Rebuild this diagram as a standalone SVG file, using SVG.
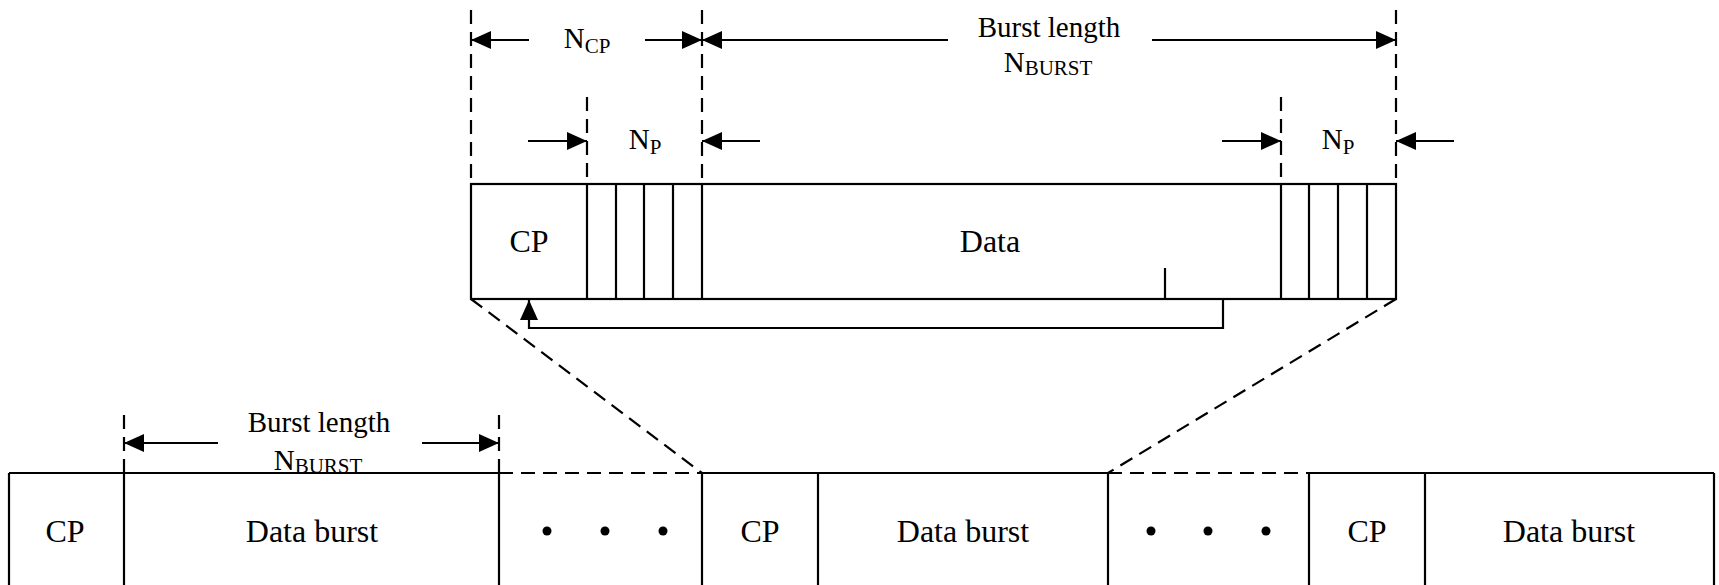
<svg xmlns="http://www.w3.org/2000/svg" width="1719" height="585" viewBox="0 0 1719 585">
<style>
.s{stroke:#000;stroke-width:2.2;fill:none}
.d{stroke:#000;stroke-width:2.2;fill:none;stroke-dasharray:14 8}
.t{font-family:"Liberation Serif","Times New Roman",serif;fill:#000;text-anchor:middle}
.big{font-size:32px}
.lab{font-size:29px}
.sub{font-size:21px}
.dot{fill:#000}
</style>
<defs>
<marker id="ah" markerUnits="userSpaceOnUse" markerWidth="20" markerHeight="18" refX="20" refY="9" orient="auto">
<path d="M0,0 L20,9 L0,18 z" fill="#000"/>
</marker>
</defs>
<rect width="1719" height="585" fill="#fff"/>

<g id="burst-zoom">
<rect class="s" x="471" y="184" width="925" height="115"/>
<line class="s" x1="587" y1="184" x2="587" y2="299"/>
<line class="s" x1="616" y1="184" x2="616" y2="299"/>
<line class="s" x1="644" y1="184" x2="644" y2="299"/>
<line class="s" x1="673" y1="184" x2="673" y2="299"/>
<line class="s" x1="702" y1="184" x2="702" y2="299"/>
<line class="s" x1="1281" y1="184" x2="1281" y2="299"/>
<line class="s" x1="1309" y1="184" x2="1309" y2="299"/>
<line class="s" x1="1338" y1="184" x2="1338" y2="299"/>
<line class="s" x1="1367" y1="184" x2="1367" y2="299"/>
<line class="s" x1="1165" y1="268" x2="1165" y2="299"/>
<text class="t big" x="529" y="252">CP</text>
<text class="t big" x="990" y="252">Data</text>
</g>

<g id="row-bottom">
<line class="s" x1="9" y1="473" x2="499" y2="473"/>
<line class="d" x1="499" y1="473" x2="702" y2="473"/>
<line class="s" x1="702" y1="473" x2="1108" y2="473"/>
<line class="d" x1="1108" y1="473" x2="1309" y2="473"/>
<line class="s" x1="1309" y1="473" x2="1714" y2="473"/>
<line class="s" x1="9" y1="473" x2="9" y2="590"/>
<line class="s" x1="124" y1="473" x2="124" y2="590"/>
<line class="s" x1="499" y1="473" x2="499" y2="590"/>
<line class="s" x1="702" y1="473" x2="702" y2="590"/>
<line class="s" x1="818" y1="473" x2="818" y2="590"/>
<line class="s" x1="1108" y1="473" x2="1108" y2="590"/>
<line class="s" x1="1309" y1="473" x2="1309" y2="590"/>
<line class="s" x1="1425" y1="473" x2="1425" y2="590"/>
<line class="s" x1="1714" y1="473" x2="1714" y2="590"/>
</g>
<g id="cp1"><text class="t big" x="65" y="542">CP</text></g>
<g id="data1"><text class="t big" x="312" y="542">Data burst</text></g>
<g id="dots1"><circle class="dot" cx="547" cy="531" r="4.5"/><circle class="dot" cx="605" cy="531" r="4.5"/><circle class="dot" cx="663" cy="531" r="4.5"/></g>
<g id="cp2"><text class="t big" x="760" y="542">CP</text></g>
<g id="data2"><text class="t big" x="963" y="542">Data burst</text></g>
<g id="dots2"><circle class="dot" cx="1151" cy="531" r="4.5"/><circle class="dot" cx="1208" cy="531" r="4.5"/><circle class="dot" cx="1266" cy="531" r="4.5"/></g>
<g id="cp3"><text class="t big" x="1367" y="542">CP</text></g>
<g id="data3"><text class="t big" x="1569" y="542">Data burst</text></g>

<g id="labels">
<text class="t lab" x="587" y="48">N<tspan class="sub" dy="5">CP</tspan></text>
<text class="t lab" x="1049" y="37">Burst length</text>
<text class="t lab" x="1048" y="72">N<tspan class="sub" dy="3">BURST</tspan></text>
<text class="t lab" x="645" y="149">N<tspan class="sub" dy="5">P</tspan></text>
<text class="t lab" x="1338" y="149">N<tspan class="sub" dy="5">P</tspan></text>
<text class="t lab" x="319" y="432">Burst length</text>
<text class="t lab" x="318" y="470">N<tspan class="sub" dy="3">BURST</tspan></text>
</g>

<g id="connectors">
<line class="d" x1="471" y1="10" x2="471" y2="184"/>
<line class="d" x1="702" y1="10" x2="702" y2="184"/>
<line class="d" x1="1396" y1="10" x2="1396" y2="184"/>
<line class="d" x1="587" y1="97" x2="587" y2="184"/>
<line class="d" x1="1281" y1="97" x2="1281" y2="184"/>
<line class="d" x1="124" y1="415" x2="124" y2="473"/>
<line class="d" x1="499" y1="415" x2="499" y2="473"/>
<line class="d" x1="471" y1="299" x2="702" y2="473"/>
<line class="d" x1="1396" y1="299" x2="1108" y2="473"/>
<line class="s" x1="529" y1="40" x2="471" y2="40" marker-end="url(#ah)"/>
<line class="s" x1="645" y1="40" x2="702" y2="40" marker-end="url(#ah)"/>
<line class="s" x1="948" y1="40" x2="702" y2="40" marker-end="url(#ah)"/>
<line class="s" x1="1152" y1="40" x2="1396" y2="40" marker-end="url(#ah)"/>
<line class="s" x1="528" y1="141" x2="587" y2="141" marker-end="url(#ah)"/>
<line class="s" x1="760" y1="141" x2="702" y2="141" marker-end="url(#ah)"/>
<line class="s" x1="1222" y1="141" x2="1281" y2="141" marker-end="url(#ah)"/>
<line class="s" x1="1454" y1="141" x2="1396" y2="141" marker-end="url(#ah)"/>
<line class="s" x1="218" y1="443" x2="124" y2="443" marker-end="url(#ah)"/>
<line class="s" x1="422" y1="443" x2="499" y2="443" marker-end="url(#ah)"/>
<polyline class="s" points="1223,299 1223,328 529,328 529,300" marker-end="url(#ah)"/>
</g>
</svg>
